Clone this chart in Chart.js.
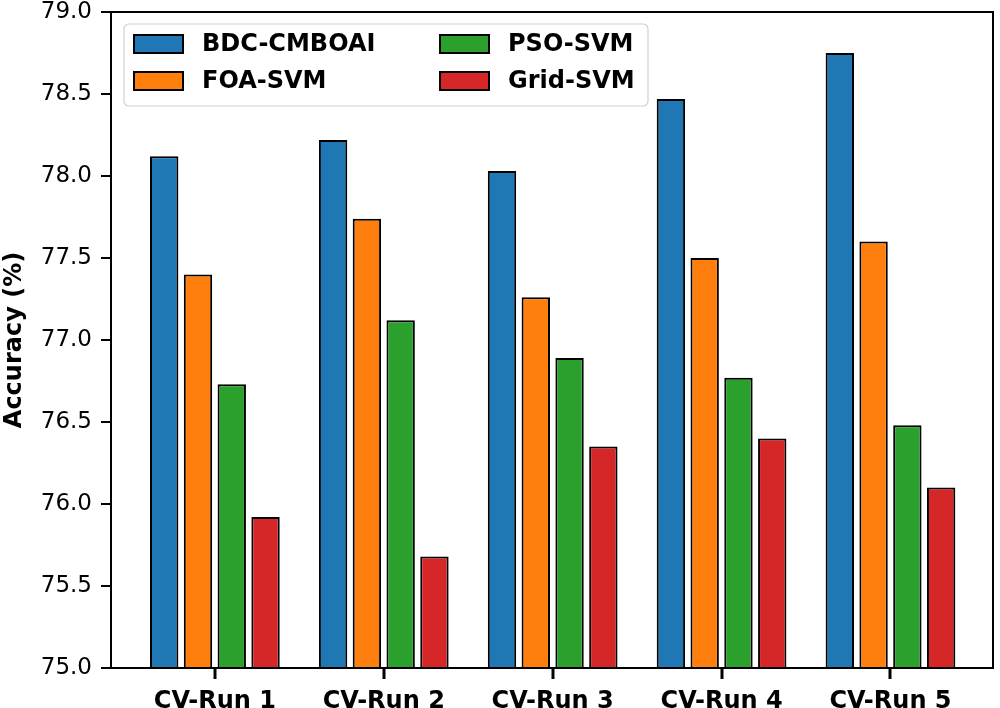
<!DOCTYPE html>
<html>
<head>
<meta charset="utf-8">
<script src="https://cdn.jsdelivr.net/npm/chart.js@4/dist/chart.umd.min.js"></script>
<style>
  html, body { margin: 0; padding: 0; background: #fff; }
  #wrap { width: 1000px; height: 708px; position: relative; }
</style>
</head>
<body>
<div id="wrap"><canvas id="accChart"></canvas></div>
<script>
// accuracy per CV run
const runLabels = ["CV-Run 1", "CV-Run 2", "CV-Run 3", "CV-Run 4", "CV-Run 5"];
const methodNames = ["BDC-CMBOAI", "FOA-SVM", "PSO-SVM", "Grid-SVM"];
const methodColors = ["#1f77b4", "#ff7f0e", "#2ca02c", "#d62728"];

const bdcCmboai = [78.12, 78.22, 78.03, 78.47, 78.75];
const foaSvm    = [77.40, 77.74, 77.26, 77.50, 77.60];
const psoSvm    = [76.73, 77.12, 76.89, 76.77, 76.48];
const gridSvm   = [75.92, 75.68, 76.35, 76.40, 76.10];

const yTicks = [75.0, 75.5, 76.0, 76.5, 77.0, 77.5, 78.0, 78.5, 79.0];

const seriesValues = [bdcCmboai, foaSvm, psoSvm, gridSvm];

// ========== plugins ==========

// draws all four spines plus the x tick marks, like matplotlib
const framePlugin = {
  id: "frame",
  afterDraw(chart) {
    const { ctx, chartArea: a } = chart;
    const xs = chart.scales.x;
    ctx.save();
    ctx.strokeStyle = "#000";
    ctx.lineWidth = 2;
    ctx.strokeRect(a.left, a.top, a.right - a.left, a.bottom - a.top);
    ctx.fillStyle = "#000";
    for (let k = 0; k < runLabels.length; k++) {
      const px = Math.round(xs.getPixelForValue(k));
      ctx.fillRect(px - 1.5, a.bottom, 3, 11);
    }
    ctx.restore();
  }
};

// two-column legend, filled column by column
const legendPlugin = {
  id: "mplLegend",
  afterDraw(chart) {
    const ctx = chart.ctx;
    ctx.save();
    // frame
    const bx = 124, by = 24, bw = 524, bh = 82, r = 5;
    ctx.beginPath();
    ctx.roundRect(bx, by, bw, bh, r);
    ctx.fillStyle = "rgba(255,255,255,0.85)";
    ctx.fill();
    ctx.strokeStyle = "#d0d0d0";
    ctx.lineWidth = 1.2;
    ctx.stroke();

    const colX = [134, 440];
    const rowY = [35, 72];
    ctx.font = "bold 24px 'DejaVu Sans'";
    ctx.textBaseline = "middle";
    chart.data.datasets.forEach((ds, i) => {
      const x = colX[Math.floor(i / 2)];
      const y = rowY[i % 2];
      ctx.fillStyle = ds.backgroundColor;
      ctx.fillRect(x, y, 49, 18);
      ctx.strokeStyle = "#000";
      ctx.lineWidth = 2;
      ctx.strokeRect(x, y, 49, 18);
      ctx.fillStyle = "#000";
      ctx.fillText(ds.label, x + 68, y + 10);
    });
    ctx.restore();
  }
};

// ========== chart ==========
function renderAccuracyChart() {
  const ctx = document.getElementById("accChart");
  Chart.defaults.font.family = "'DejaVu Sans'";
  Chart.defaults.color = "#000";

  new Chart(ctx, {
    type: "bar",
    data: {
      datasets: methodNames.map((name, i) => ({
        label: name,
        data: seriesValues[i].map((v, k) => ({ x: k, y: v })),
        backgroundColor: methodColors[i],
        borderColor: "#000",
        borderWidth: 2,
        borderSkipped: "start",
        base: yTicks[0],
        clip: 0,
        categoryPercentage: 0.8,
        barPercentage: 0.84,
      })),
    },
    options: {
      responsive: true,
      maintainAspectRatio: false,
      animation: false,
      layout: { padding: { top: 12, right: 7, left: 0, bottom: 0 } },
      plugins: {
        legend: { display: false },
        tooltip: { enabled: false },
      },
      scales: {
        x: {
          type: "linear",
          min: -0.615,
          max: 4.607,
          offset: false,
          afterBuildTicks: s => {
            s.ticks = runLabels.map((_, k) => ({ value: k }));
          },
          afterFit: s => {
            s.height = 40;
            s.paddingLeft = 0;
            s.paddingRight = 0;
          },
          ticks: {
            callback: v => runLabels[v],
            font: { size: 24, weight: "bold" },
            padding: 11,
            maxRotation: 0,
            autoSkip: false,
          },
          grid: { display: false },
          border: { display: false },
        },
        y: {
          min: yTicks[0],
          max: yTicks[yTicks.length - 1],
          afterBuildTicks: s => {
            s.ticks = yTicks.map(v => ({ value: v }));
          },
          afterFit: s => {
            s.width = 111;
            s.paddingTop = 0;
            s.paddingBottom = 0;
          },
          ticks: {
            callback: v => v.toFixed(1),
            font: { size: 23 },
            padding: 9,
          },
          grid: { drawOnChartArea: false, drawTicks: true, tickLength: 10, color: "#000", lineWidth: 2 },
          border: { display: false },
          title: {
            display: true,
            text: "Accuracy (%)",
            font: { size: 24, weight: "bold" },
            padding: 0,
          },
        },
      },
    },
    plugins: [framePlugin, legendPlugin],
  });
}

window.addEventListener("DOMContentLoaded", renderAccuracyChart);
</script>
</body>
</html>
